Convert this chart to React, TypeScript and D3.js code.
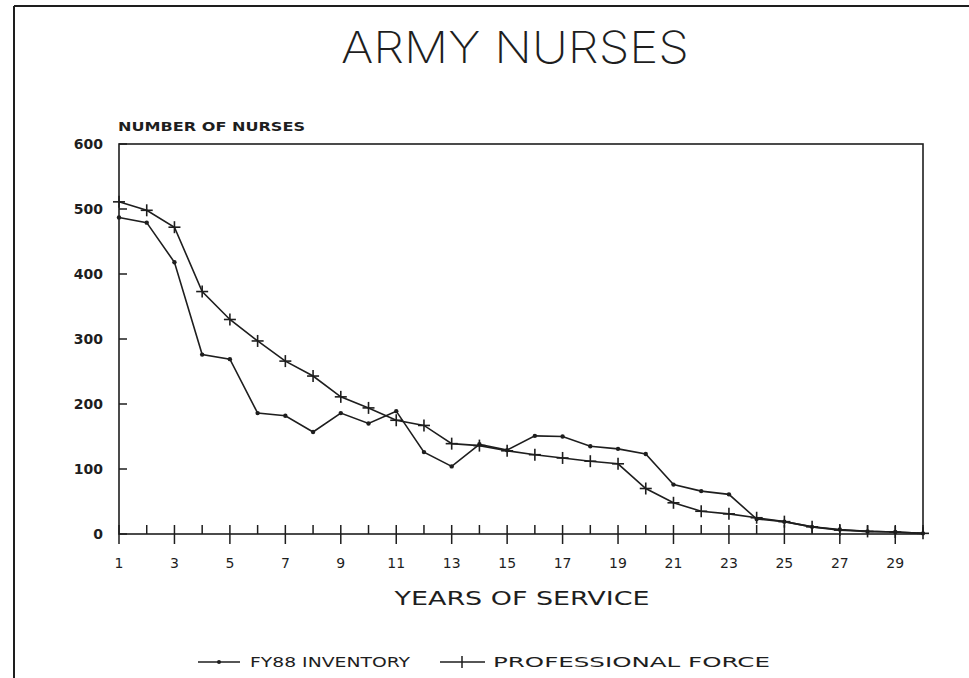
import React from "react";
import * as d3 from "d3";

// years of service on the x axis
const years = [1, 2, 3, 4, 5, 6, 7, 8, 9, 10, 11, 12, 13, 14, 15, 16, 17, 18, 19, 20, 21, 22, 23, 24, 25, 26, 27, 28, 29, 30];
// FY88 inventory (dot markers)
const fy88 = [487, 479, 418, 276, 269, 186, 182, 157, 186, 170, 189, 126, 104, 138, 129, 151, 150, 135, 131, 123, 76, 66, 61, 23, 19, 11, 7, 4, 3, 1];
// professional force (plus markers)
const professional = [511, 498, 472, 373, 330, 297, 266, 243, 211, 194, 175, 167, 139, 136, 128, 122, 117, 112, 108, 70, 48, 35, 31, 25, 19, 11, 6, 4, 3, 1];
const yTicks = [0, 100, 200, 300, 400, 500, 600];
const xLabels = [1, 3, 5, 7, 9, 11, 13, 15, 17, 19, 21, 23, 25, 27, 29];

const W = 969;
const H = 678;
const ink = "#1e1e1e";
const labelFont = "'DejaVu Sans', sans-serif";

export default function App() {
  const x = d3.scaleLinear().domain([1, 30]).range([119, 923]);
  const y = d3.scaleLinear().domain([0, 600]).range([534, 144]);

  const line = d3
    .line<number>()
    .x((d, i) => x(years[i]))
    .y((d) => y(d));

  const y0 = y(0);

  return (
    <svg width={W} height={H} style={{ position: "absolute", left: 0, top: 0, background: "#fff" }}>
      {/* outer frame (only top and left visible) */}
      <line x1={14} x2={W} y1={6} y2={6} stroke={ink} strokeWidth={2} />
      <line x1={14} x2={14} y1={6} y2={H} stroke={ink} strokeWidth={2} />

      <text x={515} y={63} textAnchor="middle" fontFamily="Inter, 'DejaVu Sans', sans-serif" fontWeight={200} fontSize={44} fill={ink} textLength={348} lengthAdjust="spacingAndGlyphs">
        ARMY NURSES
      </text>

      <text x={118} y={131} fontFamily={labelFont} fontWeight={600} fontSize={12} fill={ink} textLength={187} lengthAdjust="spacingAndGlyphs">
        NUMBER OF NURSES
      </text>

      {/* plot box */}
      <rect x={x(1)} y={y(600)} width={x(30) - x(1)} height={y0 - y(600)} fill="none" stroke={ink} strokeWidth={1.6} />

      {/* y ticks */}
      {yTicks.map((t) => (
        <g key={t}>
          <line x1={x(1)} x2={x(1) + 8} y1={y(t)} y2={y(t)} stroke={ink} strokeWidth={1.5} />
          <text x={103} y={y(t)} dy="0.36em" textAnchor="end" fontFamily={labelFont} fontWeight={600} fontSize={14} fill={ink}>
            {t}
          </text>
        </g>
      ))}

      {/* x ticks */}
      {years.map((t) => {
        const major = t % 2 === 1;
        return (
          <line key={t} x1={x(t)} x2={x(t)} y1={y0 - 9} y2={major ? y0 + 10 : y0} stroke={ink} strokeWidth={1.5} />
        );
      })}
      {xLabels.map((t) => (
        <text key={t} x={x(t)} y={568} textAnchor="middle" fontFamily={labelFont} fontSize={14} fill={ink}>
          {t}
        </text>
      ))}

      <text x={522} y={605} textAnchor="middle" fontFamily={labelFont} fontSize={20} fill={ink} textLength={255} lengthAdjust="spacingAndGlyphs">
        YEARS OF SERVICE
      </text>

      {/* series */}
      <path d={line(fy88) || ""} fill="none" stroke={ink} strokeWidth={1.6} />
      {fy88.map((v, i) => (
        <circle key={i} cx={x(years[i])} cy={y(v)} r={2.2} fill={ink} />
      ))}
      <path d={line(professional) || ""} fill="none" stroke={ink} strokeWidth={1.6} />
      {professional.map((v, i) => (
        <g key={i} stroke={ink} strokeWidth={1.6}>
          <line x1={x(years[i]) - 6} x2={x(years[i]) + 6} y1={y(v)} y2={y(v)} />
          <line x1={x(years[i])} x2={x(years[i])} y1={y(v) - 6} y2={y(v) + 6} />
        </g>
      ))}

      {/* legend */}
      <g>
        <line x1={198} x2={240} y1={662} y2={662} stroke={ink} strokeWidth={1.5} />
        <circle cx={219} cy={662} r={2} fill={ink} />
        <text x={250} y={667} fontFamily={labelFont} fontSize={14} fill={ink} textLength={160} lengthAdjust="spacingAndGlyphs">
          FY88 INVENTORY
        </text>
        <line x1={440} x2={485} y1={662} y2={662} stroke={ink} strokeWidth={1.5} />
        <line x1={462} x2={462} y1={656} y2={668} stroke={ink} strokeWidth={1.5} />
        <text x={493} y={667} fontFamily={labelFont} fontSize={14} fill={ink} textLength={277} lengthAdjust="spacingAndGlyphs">
          PROFESSIONAL FORCE
        </text>
      </g>
    </svg>
  );
}
